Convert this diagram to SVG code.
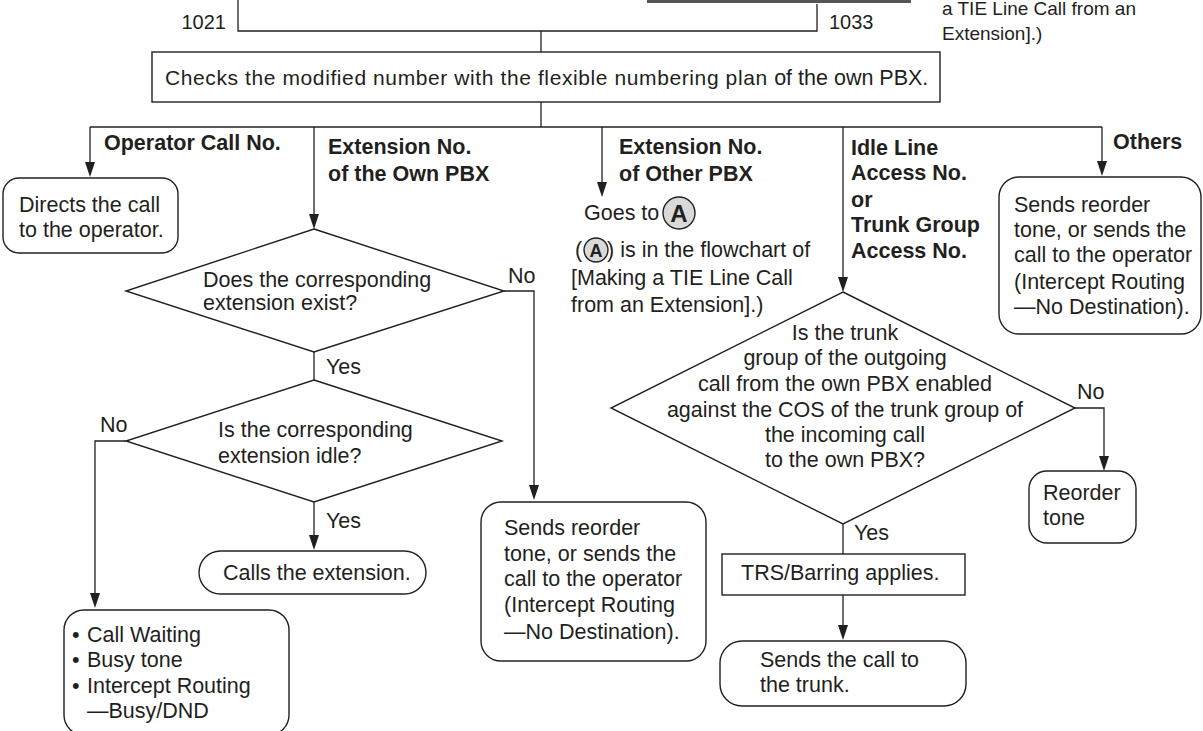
<svg xmlns="http://www.w3.org/2000/svg" width="1203" height="731" viewBox="0 0 1203 731">
<style>
text{font-family:"Liberation Sans",Arial,sans-serif;font-size:21.5px;fill:#231f20}
.b{font-weight:bold}
.c{text-anchor:middle}
.shape{fill:#fff;stroke:#231f20;stroke-width:1.4}
.ln{fill:none;stroke:#231f20;stroke-width:1.3}
.circ{fill:#d9d9d9;stroke:#231f20;stroke-width:1.4}
</style>
<g id="connectors">
<polyline class="ln" points="238,0 238,31 817,31 817,4"/>
<line x1="647" y1="1.5" x2="911" y2="1.5" stroke="#555" stroke-width="3"/>
<line class="ln" x1="541" y1="31" x2="541" y2="52"/>
<line class="ln" x1="541" y1="102" x2="541" y2="127"/>
<line class="ln" x1="90" y1="127" x2="1102" y2="127"/>
<path class="ln" d="M90,127 V163"/>
<path class="ln" d="M314,127 V215"/>
<path class="ln" d="M602,127 V183"/>
<path class="ln" d="M843,127 V278"/>
<path class="ln" d="M1102,127 V162"/>
<line class="ln" x1="314" y1="352" x2="314" y2="380"/>
<polyline class="ln" points="504,291 534,291 534,486"/>
<polyline class="ln" points="126,441 95,441 95,594"/>
<path class="ln" d="M314,502 V536"/>
<polyline class="ln" points="1075,408 1104,408 1104,457"/>
<line class="ln" x1="843" y1="524" x2="843" y2="554"/>
<path class="ln" d="M843,595 V626"/>
<g fill="#231f20">
<path d="M85,162 L95,162 L90,177 z"/>
<path d="M309,214 L319,214 L314,229 z"/>
<path d="M597,182 L607,182 L602,197 z"/>
<path d="M838,277 L848,277 L843,292 z"/>
<path d="M1097,161 L1107,161 L1102,176 z"/>
<path d="M529,485 L539,485 L534,500 z"/>
<path d="M90,593 L100,593 L95,608 z"/>
<path d="M309,535 L319,535 L314,550 z"/>
<path d="M1099,456 L1109,456 L1104,471 z"/>
<path d="M838,625 L848,625 L843,640 z"/>
</g>
</g>
<g id="top-labels">
<text x="226" y="29" text-anchor="end" style="font-size:20px">1021</text>
<text x="829" y="29" style="font-size:20px">1033</text>
<text x="942" y="15" style="font-size:19px">a TIE Line Call from an</text>
<text x="942" y="40" style="font-size:19px">Extension].)</text>
</g>
<g id="check">
<rect class="shape" x="152" y="52" width="788" height="50"/>
<text x="165" y="85" style="font-size:21px;letter-spacing:0.6px">Checks the modified number with the flexible numbering plan <tspan style="font-size:21.5px;letter-spacing:0">of the own PBX.</tspan></text>
</g>
<g id="branch-labels">
<text class="b" x="104" y="150">Operator Call No.</text>
<text class="b" x="328" y="154">Extension No.</text>
<text class="b" x="328" y="181">of the Own PBX</text>
<text class="b" x="619" y="154">Extension No.</text>
<text class="b" x="619" y="181">of Other PBX</text>
<text class="b" x="851" y="155">Idle Line</text>
<text class="b" x="851" y="180">Access No.</text>
<text class="b" x="851" y="207">or</text>
<text class="b" x="851" y="232">Trunk Group</text>
<text class="b" x="851" y="258">Access No.</text>
<text class="b" x="1113" y="149">Others</text>
</g>
<g id="operator">
<rect class="shape" x="3" y="178" width="175" height="75" rx="16"/>
<text x="19" y="212">Directs the call</text>
<text x="19" y="237">to the operator.</text>
</g>
<g id="goto-a">
<text x="584" y="220">Goes to</text>
<circle class="circ" cx="679" cy="213" r="16"/>
<text class="b c" x="679" y="222" style="font-size:24px">A</text>
<text x="575" y="257">(</text>
<circle class="circ" cx="596" cy="250" r="12"/>
<text class="b c" x="596" y="257" style="font-size:18px">A</text>
<text x="607" y="257">) is in the flowchart of</text>
<text x="571" y="285">[Making a TIE Line Call</text>
<text x="571" y="312">from an Extension].)</text>
</g>
<g id="others">
<rect class="shape" x="999" y="177" width="202" height="157" rx="20"/>
<text x="1014" y="212">Sends reorder</text>
<text x="1014" y="237">tone, or sends the</text>
<text x="1014" y="262">call to the operator</text>
<text x="1014" y="289">(Intercept Routing</text>
<text x="1014" y="314">—No Destination).</text>
</g>
<g id="exist">
<polygon class="shape" points="314,229 504,291 314,352 126,291"/>
<text x="203" y="287">Does the corresponding</text>
<text x="203" y="310">extension exist?</text>
<text x="508" y="283">No</text>
<text x="326" y="374">Yes</text>
</g>
<g id="idle">
<polygon class="shape" points="314,380 502,441 314,502 126,441"/>
<text x="218" y="437">Is the corresponding</text>
<text x="218" y="463">extension idle?</text>
<text x="100" y="432">No</text>
<text x="326" y="528">Yes</text>
</g>
<g id="calls-ext">
<rect class="shape" x="199" y="551" width="227" height="43" rx="21.5"/>
<text x="223" y="580">Calls the extension.</text>
</g>
<g id="busy">
<rect class="shape" x="64" y="610" width="225" height="125" rx="20"/>
<text x="72" y="642">•</text><text x="87" y="642">Call Waiting</text>
<text x="72" y="667">•</text><text x="87" y="667">Busy tone</text>
<text x="72" y="693">•</text><text x="87" y="693">Intercept Routing</text>
<text x="87" y="718">—Busy/DND</text>
</g>
<g id="no-dest">
<rect class="shape" x="481" y="502" width="225" height="159" rx="20"/>
<text x="504" y="535">Sends reorder</text>
<text x="504" y="561">tone, or sends the</text>
<text x="504" y="586">call to the operator</text>
<text x="504" y="612">(Intercept Routing</text>
<text x="504" y="639">—No Destination).</text>
</g>
<g id="cos">
<polygon class="shape" points="843,292 1075,408 843,524 611,408"/>
<text class="c" x="845" y="340">Is the trunk</text>
<text class="c" x="845" y="365">group of the outgoing</text>
<text class="c" x="845" y="391">call from the own PBX enabled</text>
<text class="c" x="845" y="417">against the COS of the trunk group of</text>
<text class="c" x="845" y="442">the incoming call</text>
<text class="c" x="845" y="467">to the own PBX?</text>
<text x="1077" y="399">No</text>
<text x="854" y="540">Yes</text>
</g>
<g id="reorder">
<rect class="shape" x="1029" y="471" width="107" height="72" rx="18"/>
<text x="1043" y="500">Reorder</text>
<text x="1043" y="525">tone</text>
</g>
<g id="trs">
<rect class="shape" x="722" y="554" width="243" height="41"/>
<text x="741" y="580">TRS/Barring applies.</text>
</g>
<g id="trunk">
<rect class="shape" x="720" y="641" width="246" height="65" rx="22"/>
<text x="760" y="667">Sends the call to</text>
<text x="760" y="692">the trunk.</text>
</g>
</svg>
